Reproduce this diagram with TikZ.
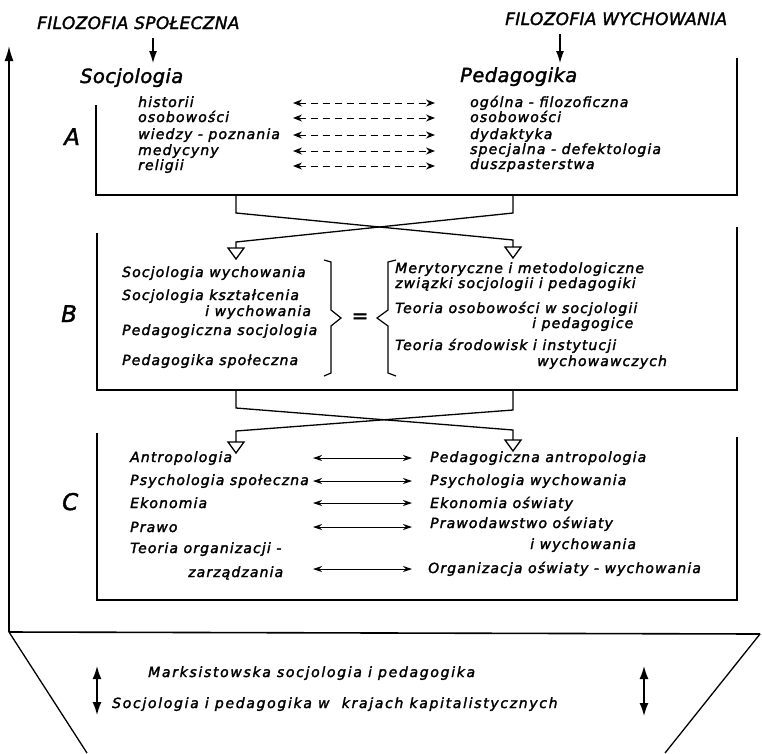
\documentclass[tikz,border=0pt]{standalone}
\usepackage{fontspec}
\usetikzlibrary{arrows.meta}
\newfontfamily\lf{DejaVu Sans}[LetterSpace=8,FakeBold=2]
\newfontfamily\wlf{DejaVu Sans}[LetterSpace=12,FakeBold=2]
\newfontfamily\tf{DejaVu Sans}[LetterSpace=2,FakeBold=1.8]
\tikzset{
  lbl/.style={anchor=base west, inner sep=0pt, font=\lf\itshape\fontsize{14}{16}\selectfont},
  blbl/.style={anchor=base west, inner sep=0pt, font=\wlf\itshape\fontsize{14}{16}\selectfont},
  ttl/.style={anchor=base west, inner sep=0pt, font=\tf\itshape\fontsize{17}{20}\selectfont},
  hdr/.style={anchor=base west, inner sep=0pt, font=\tf\itshape\fontsize{19.5}{22}\selectfont},
  sec/.style={anchor=base west, inner sep=0pt, font=\tf\itshape\fontsize{23}{26}\selectfont},
  boxline/.style={line width=1.6pt, line join=miter},
  xline/.style={line width=1.3pt},
  tri/.style={line width=1.3pt, line join=miter},
  brline/.style={line width=1.2pt, line join=miter},
  titarrow/.style={line width=1.1pt, -{Latex[length=12pt,width=8pt]}},
  dasharrow/.style={line width=1pt, dash pattern=on 7pt off 5pt,
     {Stealth[length=9pt,width=7pt]}-{Stealth[length=9pt,width=7pt]}},
  solarrow/.style={line width=0.9pt,
     {Stealth[length=9pt,width=6pt]}-{Stealth[length=9pt,width=6pt]}},
  bigarrow/.style={line width=1.5pt,
     {Latex[length=13pt,width=9pt]}-{Latex[length=13pt,width=9pt]}},
}
\begin{document}
\begin{tikzpicture}[x=1pt,y=-1pt]
\useasboundingbox (0,0) rectangle (762,753);

% ---------- titles ----------
\node[ttl] (fs) at (37,29) {FILOZOFIA SPOŁECZNA};
\node[ttl] (fw) at (505,25) {FILOZOFIA WYCHOWANIA};
\node[hdr] (soc) at (80,83) {Socjologia};
\node[hdr] (ped) at (460,82) {Pedagogika};
\coordinate (fsa) at (153,38);
\coordinate (soca) at (153,63);
\coordinate (fwa) at (560,34);
\coordinate (peda) at (560,63);
\draw[titarrow] (fsa) -- (soca);
\draw[titarrow] (fwa) -- (peda);

% ---------- outer frame ----------
\coordinate (oTop) at (9,46);
\coordinate (oBL) at (9,632);
\coordinate (oBR) at (760,634);
\coordinate (oDL) at (87,753);
\coordinate (oDR) at (665,753);
\draw[boxline, -{Latex[length=15pt,width=9pt]}] (oBL) -- (oTop);
\draw[boxline] (oBL) -- (oBR);
\draw[xline] (oBL) -- (oDL);
\draw[xline] (oBR) -- (oDR);

% ---------- box A ----------
\coordinate (Atl) at (96,105);
\coordinate (Abl) at (96,195);
\coordinate (Abr) at (737,195);
\coordinate (Atr) at (737,58);
\draw[boxline] (Atl) -- (Abl) -- (Abr) -- (Atr);
\node[sec] (secA) at (64,145) {A};

\node[lbl] (a1) at (138,107) {historii};
\node[lbl] (a2) at (138,122) {osobowości};
\node[lbl] (a3) at (138,139) {wiedzy - poznania};
\node[lbl] (a4) at (138,155) {medycyny};
\node[lbl] (a5) at (138,170) {religii};
\node[lbl] (b1) at (470,107) {ogólna - filozoficzna};
\node[lbl] (b2) at (470,122) {osobowości};
\node[lbl] (b3) at (470,139) {dydaktyka};
\node[lbl] (b4) at (470,154) {specjalna - defektologia};
\node[lbl] (b5) at (470,169) {duszpasterstwa};
\foreach \i/\y in {1/103,2/118,3/135,4/151,5/166}{
  \coordinate (dl\i) at (293,\y);
  \coordinate (dr\i) at (435,\y);
  \draw[dasharrow] (dl\i) -- (dr\i);
}

% ---------- A -> B crossing ----------
\coordinate (ABl1) at (236,195);
\coordinate (ABl2) at (236,213);
\coordinate (ABr1) at (513,195);
\coordinate (ABr2) at (513,213);
\coordinate (ABr3) at (513,240);
\coordinate (ABl3) at (236,242);
\coordinate (tBl) at (236,248);
\coordinate (tBr) at (513,247);
\draw[xline] (ABl1) -- (ABl2) -- (ABr3) -- (tBr);
\draw[xline] (ABr1) -- (ABr2) -- (ABl3) -- (tBl);
\foreach \t in {tBl,tBr}{
  \draw[tri] (\t) ++(-8,0) -- ++(16,0) -- ++(-8,11) -- cycle;
}

% ---------- box B ----------
\coordinate (Btl) at (97,233);
\coordinate (Bbl) at (97,390);
\coordinate (Bbr) at (737,390);
\coordinate (Btr) at (737,227);
\draw[boxline] (Btl) -- (Bbl) -- (Bbr) -- (Btr);
\node[sec] (secB) at (61,322) {B};

\node[lbl] (c1) at (122,277) {Socjologia wychowania};
\node[lbl] (c2) at (122,300) {Socjologia kształcenia};
\node[lbl] (c2b) at (205,316) {i wychowania};
\node[lbl] (c3) at (122,335) {Pedagogiczna socjologia};
\node[lbl] (c4) at (122,365) {Pedagogika społeczna};

\coordinate (rb1) at (324,260);
\coordinate (rb2) at (331,262);
\coordinate (rb3) at (331,310);
\coordinate (rb4) at (341,318);
\coordinate (rb5) at (331,326);
\coordinate (rb6) at (331,373);
\coordinate (rb7) at (324,376);
\draw[brline] (rb1) -- (rb2) -- (rb3) -- (rb4) -- (rb5) -- (rb6) -- (rb7);
\node[anchor=center, inner sep=0pt, font=\tf\fontsize{20}{22}\selectfont] (eq) at (360,318) {=};
\coordinate (lb1) at (396,260);
\coordinate (lb2) at (388,262);
\coordinate (lb3) at (388,310);
\coordinate (lb4) at (377,318);
\coordinate (lb5) at (388,326);
\coordinate (lb6) at (388,373);
\coordinate (lb7) at (396,376);
\draw[brline] (lb1) -- (lb2) -- (lb3) -- (lb4) -- (lb5) -- (lb6) -- (lb7);

\node[lbl] (d1) at (395,273) {Merytoryczne i metodologiczne};
\node[lbl] (d1b) at (395,288) {związki socjologii i pedagogiki};
\node[lbl] (d2) at (395,313) {Teoria osobowości w socjologii};
\node[lbl] (d2b) at (532,328) {i pedagogice};
\node[lbl] (d3) at (395,350) {Teoria środowisk i instytucji};
\node[lbl] (d3b) at (537,366) {wychowawczych};

% ---------- B -> C crossing ----------
\coordinate (BCl1) at (236,390);
\coordinate (BCl2) at (236,408);
\coordinate (BCr1) at (513,390);
\coordinate (BCr2) at (513,410);
\coordinate (BCr3) at (513,430);
\coordinate (BCl3) at (236,431);
\coordinate (tCl) at (236,442);
\coordinate (tCr) at (513,440);
\draw[xline] (BCl1) -- (BCl2) -- (BCr3) -- (tCr);
\draw[xline] (BCr1) -- (BCr2) -- (BCl3) -- (tCl);
\foreach \t in {tCl,tCr}{
  \draw[tri] (\t) ++(-8,0) -- ++(16,0) -- ++(-8,11) -- cycle;
}

% ---------- box C ----------
\coordinate (Ctl) at (97,433);
\coordinate (Cbl) at (97,600);
\coordinate (Cbr) at (737,600);
\coordinate (Ctr) at (737,437);
\draw[boxline] (Ctl) -- (Cbl) -- (Cbr) -- (Ctr);
\node[sec] (secC) at (62,510) {C};

\node[lbl] (e1) at (130,462) {Antropologia};
\node[lbl] (e2) at (130,485) {Psychologia społeczna};
\node[lbl] (e3) at (130,508) {Ekonomia};
\node[lbl] (e4) at (130,532) {Prawo};
\node[lbl] (e5) at (130,553) {Teoria organizacji -};
\node[lbl] (e5b) at (188,577) {zarządzania};
\node[lbl] (f1) at (430,462) {Pedagogiczna antropologia};
\node[lbl] (f2) at (430,485) {Psychologia wychowania};
\node[lbl] (f3) at (430,508) {Ekonomia oświaty};
\node[lbl] (f4) at (430,528) {Prawodawstwo oświaty};
\node[lbl] (f4b) at (530,549) {i wychowania};
\node[lbl] (f5) at (428,573) {Organizacja oświaty - wychowania};
\foreach \i/\y in {1/458,2/481,3/503,4/527,5/569}{
  \coordinate (sl\i) at (313,\y);
  \coordinate (sr\i) at (412,\y);
  \draw[solarrow] (sl\i) -- (sr\i);
}

% ---------- bottom ----------
\node[blbl] (g1) at (148,677) {Marksistowska socjologia i pedagogika};
\node[blbl] (g2) at (112,708) {Socjologia i pedagogika w \ krajach kapitalistycznych};
\coordinate (ba1) at (97,666);
\coordinate (ba2) at (97,715);
\coordinate (bb1) at (644,666);
\coordinate (bb2) at (644,716);
\draw[bigarrow] (ba1) -- (ba2);
\draw[bigarrow] (bb1) -- (bb2);
\end{tikzpicture}
\end{document}
